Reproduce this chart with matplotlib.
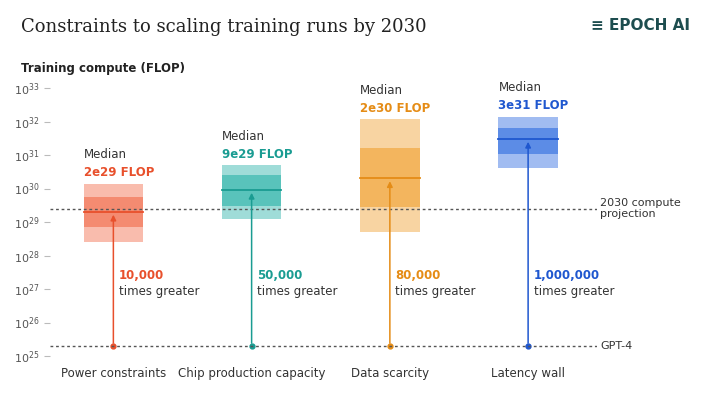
import matplotlib
matplotlib.use("Agg")
import matplotlib.pyplot as plt
import numpy as np

categories = ["Power constraints", "Chip production capacity", "Data scarcity", "Latency wall"]
outer_low = [2.5e28, 1.2e29, 5e28, 4e30]
outer_high = [1.4e30, 5e30, 1.2e32, 1.4e32]
inner_low = [7e28, 3e29, 2.8e29, 1.1e31]
inner_high = [5.5e29, 2.5e30, 1.6e31, 6.5e31]
medians = [2e29, 9e29, 2e30, 3e31]
median_labels = ["2e29 FLOP", "9e29 FLOP", "2e30 FLOP", "3e31 FLOP"]
factors = ["10,000", "50,000", "80,000", "1,000,000"]
colors = ["#f26b4a", "#2bb3a9", "#f0a132", "#2f6ce0"]
dark = ["#e8502c", "#1a9c92", "#e58c16", "#1f57cf"]
gpt4 = 2e25
proj2030 = 2.5e29

fig = plt.figure(figsize=(7.11, 4.0), dpi=100)
ax = fig.add_axes([0.07, 0.11, 0.77, 0.67])
ax.set_yscale("log")
ax.set_ylim(1e25, 1e33)
ax.set_xlim(-0.46, 3.5)
x = np.arange(len(categories))
w = 0.43
for i in range(4):
    ax.bar(x[i], outer_high[i] - outer_low[i], bottom=outer_low[i], width=w, color=colors[i], alpha=0.45, lw=0)
    ax.bar(x[i], inner_high[i] - inner_low[i], bottom=inner_low[i], width=w, color=colors[i], alpha=0.6, lw=0)
    ax.plot([x[i] - w/2, x[i] + w/2], [medians[i]] * 2, color=dark[i], lw=1.3)
    ax.annotate("", xy=(x[i], medians[i]), xytext=(x[i], gpt4),
                arrowprops=dict(arrowstyle="-|>", color=dark[i], lw=1.1, mutation_scale=8))
    ax.plot(x[i], gpt4, "o", color=dark[i], ms=3.5)
    ax.annotate("Median", (x[i] - w/2, outer_high[i]), xytext=(0, 16), textcoords="offset points",
                fontsize=8.5, color="#333333", va="bottom")
    ax.annotate(median_labels[i], (x[i] - w/2, outer_high[i]), xytext=(0, 3), textcoords="offset points",
                fontsize=8.5, color=dark[i], fontweight="bold", va="bottom")
    ax.text(x[i] + 0.04, 1.6e27, factors[i], fontsize=8.5, color=dark[i], fontweight="bold", va="bottom")
    ax.text(x[i] + 0.04, 1.3e27, "times greater", fontsize=8.5, color="#333333", va="top")

ax.axhline(proj2030, color="#555555", ls=(0, (2, 2)), lw=1)
ax.axhline(gpt4, color="#555555", ls=(0, (2, 2)), lw=1)
ax.text(1.005, proj2030, "2030 compute\nprojection", transform=ax.get_yaxis_transform(), fontsize=8, va="center", color="#333333")
ax.text(1.005, gpt4, "GPT-4", transform=ax.get_yaxis_transform(), fontsize=8, va="center", color="#333333")

ax.set_xticks(x)
ax.set_xticklabels(categories, fontsize=8.5, color="#333333")
ax.set_yticks([10.0**k for k in range(25, 34)])
ax.tick_params(axis="y", labelsize=8, colors="#555555", length=4, color="#bbbbbb")
ax.tick_params(axis="x", length=0, pad=8)
ax.minorticks_off()
for s in ax.spines.values():
    s.set_visible(False)

fig.text(0.03, 0.92, "Constraints to scaling training runs by 2030", fontsize=13, family="DejaVu Serif", color="#222222")
fig.text(0.03, 0.82, "Training compute (FLOP)", fontsize=8.5, color="#222222", fontweight="bold")
fig.text(0.97, 0.925, "≡ EPOCH AI", fontsize=11, color="#1d4d4f", fontweight="bold", ha="right")
fig.savefig("out.png", dpi=100, facecolor="white")
